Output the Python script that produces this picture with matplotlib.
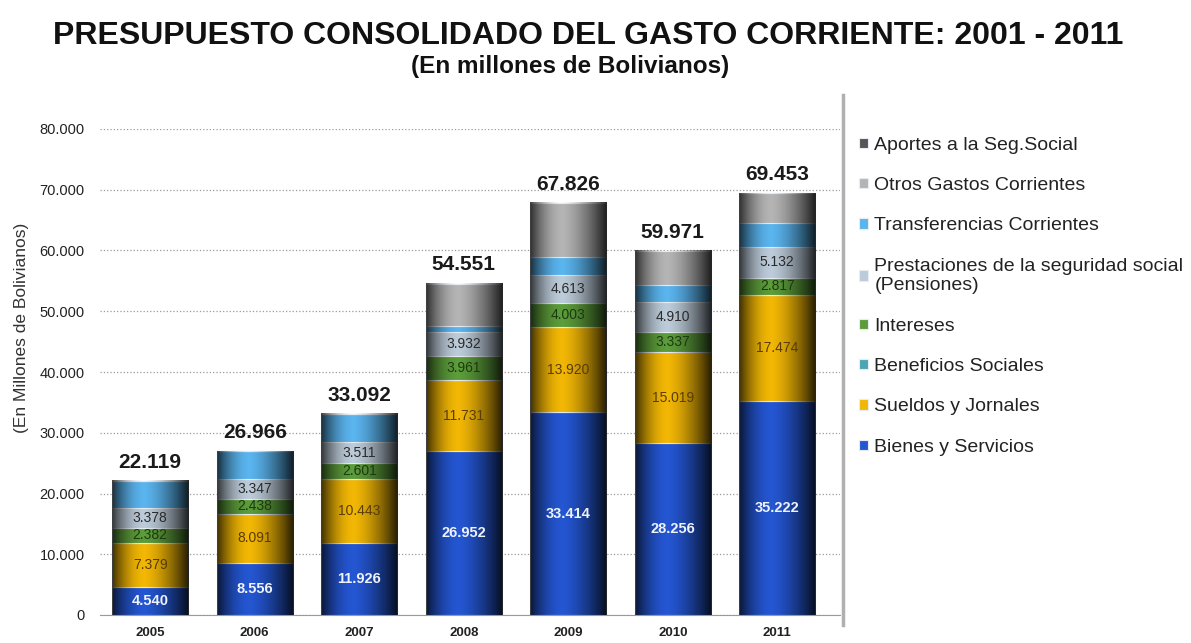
import numpy as np
import matplotlib
matplotlib.use('Agg')
from matplotlib import pyplot as plt
from matplotlib.lines import Line2D

plt.rcParams['font.family'] = ['Liberation Sans', 'DejaVu Sans']

years = ['2005', '2006', '2007', '2008', '2009', '2010', '2011']
totals = [22119, 26966, 33092, 54551, 67826, 59971, 69453]

bienes = [4540, 8556, 11926, 26952, 33414, 28256, 35222]
sueldos = [7379, 8091, 10443, 11731, 13920, 15019, 17474]
beneficios = [0, 0, 0, 0, 0, 0, 0]
intereses = [2382, 2438, 2601, 3961, 4003, 3337, 2817]
prestaciones = [3378, 3347, 3511, 3932, 4613, 4910, 5132]
transferencias = [4440, 4534, 4611, 1000, 3050, 2878, 3855]
otros = [0, 0, 0, 6975, 8826, 5571, 4953]
aportes = [0, 0, 0, 0, 0, 0, 0]

series = [
    ('Bienes y Servicios', bienes, '#2456d2', True),
    ('Sueldos y Jornales', sueldos, '#f2b705', True),
    ('Beneficios Sociales', beneficios, '#4aa6b4', False),
    ('Intereses', intereses, '#5c9c3a', True),
    ('Prestaciones de la seguridad social\n(Pensiones)', prestaciones, '#bccbd9', True),
    ('Transferencias Corrientes', transferencias, '#5ab4ee', False),
    ('Otros Gastos Corrientes', otros, '#b4b4b4', False),
    ('Aportes a la Seg.Social', aportes, '#555555', False),
]
text_colors = {'Bienes y Servicios': '#eef2fa', 'Sueldos y Jornales': '#5a3c05',
               'Intereses': '#1c3a10'}


def fmt(v):
    return '{:,}'.format(v).replace(',', '.')


fig = plt.figure(figsize=(11.91, 6.43), dpi=100)
ax = fig.add_axes([100 / 1191, 1 - 615 / 643, 740 / 1191, 486 / 643])

x = np.arange(len(years))
w = 0.73
bottom = np.zeros(len(years))
handles = []
for name, vals, col, show in series:
    vals = np.array(vals, dtype=float)
    b = ax.bar(x, vals, w, bottom=bottom, color=col, edgecolor='#e6ecf2',
               linewidth=0.8, zorder=2)
    handles.append((b, name))
    if show:
        tc = text_colors.get(name, '#2a2a2a')
        bold = name == 'Bienes y Servicios'
        for xi, v, b0 in zip(x, vals, bottom):
            if v > 0:
                ax.text(xi, b0 + v / 2, fmt(int(v)), ha='center', va='center',
                        fontsize=10.5 if bold else 10, color=tc,
                        fontweight='bold' if bold else 'normal', zorder=5)
    bottom += vals

# cylinder shading over every bar
t = np.linspace(0, 1, 200)
alpha = np.where(t < 0.42, 0.75 * ((0.42 - t) / 0.42) ** 1.8,
                 0.85 * ((t - 0.42) / 0.58) ** 1.5)
shade = np.zeros((1, len(t), 4))
shade[0, :, 3] = alpha
for xi, tot in zip(x, totals):
    ax.imshow(shade, extent=(xi - w / 2, xi + w / 2, 0, tot), aspect='auto',
              zorder=3, interpolation='bilinear')
    ax.text(xi, tot + 1500, fmt(tot), ha='center', va='bottom', fontsize=15,
            fontweight='bold', color='#1a1a1a', zorder=5)

ax.set_xlim(-0.48, 6.6)
ax.set_ylim(0, 80000)
ax.set_yticks(np.arange(0, 80001, 10000))
ax.set_yticklabels([fmt(v) for v in range(0, 80001, 10000)], fontsize=10.5, color='#222222')
ax.set_xticks(x)
ax.set_xticklabels(years, fontsize=9.5, fontweight='bold', color='#222222')
ax.tick_params(axis='y', length=0, pad=11)
ax.tick_params(axis='x', length=0, pad=9)
ax.grid(axis='y', linestyle=':', color='#9a9a9a', linewidth=0.9, zorder=0)
ax.set_axisbelow(True)
for s in ['top', 'right', 'left']:
    ax.spines[s].set_visible(False)
ax.spines['bottom'].set_color('#9a9a9a')
ax.set_ylabel('(En Millones de Bolivianos)', fontsize=12.5, color='#333333')
ax.yaxis.set_label_coords(-0.096, 0.59)

fig.add_artist(Line2D([843 / 1191, 843 / 1191], [1 - 95 / 643, 1 - 625 / 643],
                      color='#b0b0b0', linewidth=2.5))

leg = fig.legend([h for h, n in handles[::-1]], [n for h, n in handles[::-1]],
                 loc='upper left', bbox_to_anchor=(851 / 1191, 1 - 129 / 643),
                 frameon=False, fontsize=14, handlelength=0.45, handleheight=0.45,
                 handletextpad=0.35, labelspacing=1.2, borderaxespad=0)
for txt in leg.get_texts():
    txt.set_color('#222222')

fig.text(0.494, 1 - 36 / 643, 'PRESUPUESTO CONSOLIDADO DEL GASTO CORRIENTE: 2001 - 2011',
         ha='center', va='center', fontsize=23, fontweight='bold', color='#111111')
fig.text(570 / 1191, 1 - 67 / 643, '(En millones de Bolivianos)', ha='center', va='center',
         fontsize=17.5, fontweight='bold', color='#111111')

fig.savefig('out.png', dpi=100)
